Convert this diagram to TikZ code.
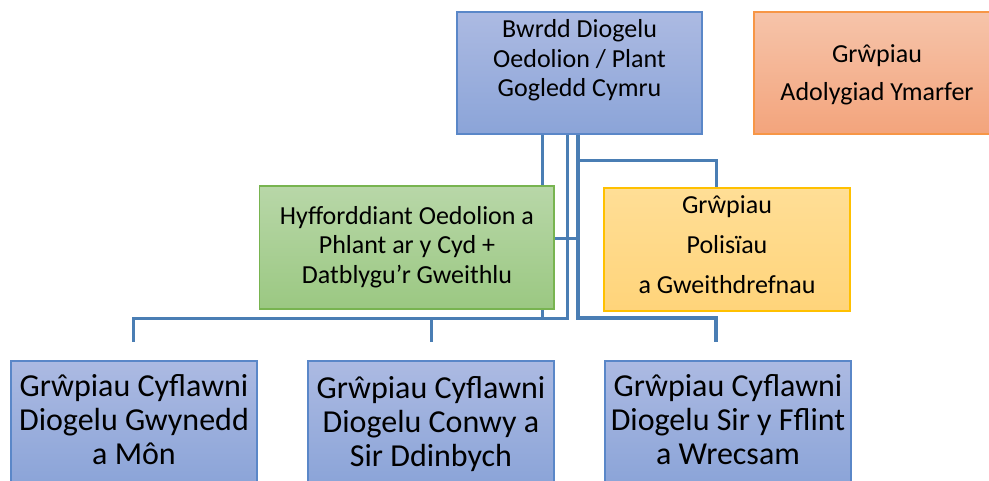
\documentclass[tikz,border=0pt]{standalone}
\usepackage{fontspec}
\setmainfont{Carlito}
\usetikzlibrary{backgrounds}
\definecolor{lineblue}{RGB}{74,126,180}
\definecolor{bluetop}{RGB}{172,186,226}
\definecolor{bluebot}{RGB}{139,164,216}
\definecolor{blueedge}{RGB}{90,135,200}
\definecolor{greentop}{RGB}{184,215,168}
\definecolor{greenbot}{RGB}{155,200,130}
\definecolor{greenedge}{RGB}{120,180,80}
\definecolor{yellowtop}{RGB}{255,222,150}
\definecolor{yellowbot}{RGB}{255,212,122}
\definecolor{yellowedge}{RGB}{255,192,0}
\definecolor{orangetop}{RGB}{246,196,170}
\definecolor{orangebot}{RGB}{243,164,124}
\definecolor{orangeedge}{RGB}{247,150,70}
\tikzset{
  box/.style={rectangle, draw, line width=1.2pt, inner sep=0pt},
  bluebox/.style={box, draw=blueedge, top color=bluetop, bottom color=bluebot},
  greenbox/.style={box, draw=greenedge, top color=greentop, bottom color=greenbot},
  yellowbox/.style={box, draw=yellowedge, top color=yellowtop, bottom color=yellowbot},
  orangebox/.style={box, draw=orangeedge, top color=orangetop, bottom color=orangebot},
  midtxt/.style={align=center, inner sep=0pt, text=black, font=\fontsize{26}{29.5}\selectfont},
  widetxt/.style={align=center, inner sep=0pt, text=black, font=\fontsize{26}{40}\selectfont},
  bigtxt/.style={align=center, inner sep=0pt, text=black, font=\fontsize{32}{34}\selectfont},
  conn/.style={draw=lineblue, line width=3pt},
  connthick/.style={draw=lineblue, line width=3.6pt}
}
\begin{document}
\begin{tikzpicture}[x=1pt,y=-1pt]
\useasboundingbox (0,0) rectangle (989,480);
% boxes
\node[bluebox, minimum width=245pt, minimum height=122pt] (top) at (579.5,73) {};
\node[orangebox, minimum width=246pt, minimum height=122pt] (rev) at (877,73) {};
\node[greenbox, minimum width=294.5pt, minimum height=123pt] (train) at (406.75,247.5) {};
\node[yellowbox, minimum width=246pt, minimum height=123pt] (pol) at (727,249.5) {};
\node[bluebox, minimum width=246pt, minimum height=123pt] (gw) at (134,422.5) {};
\node[bluebox, minimum width=246pt, minimum height=123pt] (cd) at (431,422.5) {};
\node[bluebox, minimum width=246pt, minimum height=123pt] (fw) at (728,422.5) {};
% texts
\node[midtxt] (topt) at (579.5,60.5) {Bwrdd Diogelu\\Oedolion / Plant\\Gogledd Cymru};
\node[widetxt, font=\fontsize{26}{38}\selectfont] (revt) at (877,74.5) {Grŵpiau\\Adolygiad Ymarfer};
\node[midtxt] (traint) at (407,247) {Hyfforddiant Oedolion a\\Phlant ar y Cyd +\\Datblygu’r Gweithlu};
\node[widetxt] (polt) at (727,245) {Grŵpiau\\Polisïau\\a Gweithdrefnau};
\node[bigtxt] (gwt) at (134,420) {Grŵpiau Cyflawni\\Diogelu Gwynedd\\a Môn};
\node[bigtxt] (cdt) at (431,424) {Grŵpiau Cyflawni\\Diogelu Conwy a\\Sir Ddinbych};
\node[bigtxt] (fwt) at (728,420) {Grŵpiau Cyflawni\\Diogelu Sir y Fflint\\a Wrecsam};
% junctions
\coordinate (jG) at (542,318);
\coordinate (jR) at (567,318);
\coordinate (jL) at (133,318);
\coordinate (jM) at (431,318);
\coordinate (jB) at (578,318);
\coordinate (jB2) at (716,318);
\coordinate (jY) at (578,160);
\coordinate (jY2) at (716,160);
\coordinate (jT) at (578,238);
\coordinate (eL) at (133,342);
\coordinate (eM) at (431,342);
\coordinate (eR) at (716,342);
\begin{scope}[on background layer]
\draw[conn] (top.south -| jG) -- (jG);
\draw[conn] (top.south -| jR) -- (jR) -- (jL) -- (eL);
\draw[conn] (jM) -- (eM);
\draw[connthick] (top.south -| jB) -- (jB) -- (jB2) -- (eR);
\draw[conn] (jY) -- (jY2) -- (pol.north -| jY2);
\draw[conn] (train.east |- jT) -- (jT);
\end{scope}
\end{tikzpicture}
\end{document}
